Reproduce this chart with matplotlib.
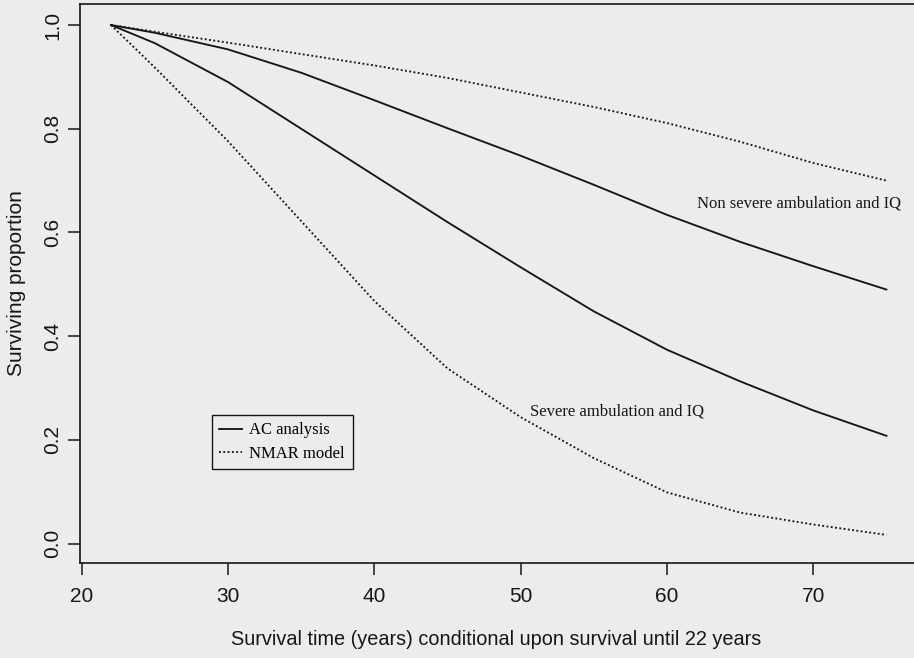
import matplotlib
matplotlib.use("Agg")
import matplotlib.pyplot as plt
from matplotlib.font_manager import FontProperties

# survival curves
age = [22, 25, 30, 35, 40, 45, 50, 55, 60, 65, 70, 75]
ac_nonsevere = [1.0, 0.985, 0.953, 0.908, 0.855, 0.801, 0.748, 0.692, 0.634, 0.582, 0.535, 0.490]
nmar_nonsevere = [1.0, 0.987, 0.966, 0.944, 0.922, 0.898, 0.870, 0.842, 0.811, 0.775, 0.734, 0.700]
ac_severe = [1.0, 0.965, 0.890, 0.800, 0.710, 0.620, 0.533, 0.448, 0.374, 0.313, 0.257, 0.208]
nmar_severe = [1.0, 0.918, 0.776, 0.622, 0.468, 0.338, 0.244, 0.165, 0.099, 0.060, 0.037, 0.017]

xticks = [20, 30, 40, 50, 60, 70]
yticks = [0.0, 0.2, 0.4, 0.6, 0.8, 1.0]

BG = '#ececec'
INK = '#161616'
SANS = ['Liberation Sans', 'DejaVu Sans']
SERIF = ['Liberation Serif', 'DejaVu Serif']

fig = plt.figure(figsize=(9.14, 6.58), dpi=100)
fig.patch.set_facecolor(BG)

# plot box runs slightly past the right edge, as in the cropped scan
ax = fig.add_axes([80 / 914, 1 - 563 / 658, 837 / 914, 559 / 658])
ax.patch.set_alpha(0)

dot = (0, (1, 1.3))
ax.plot(age, ac_nonsevere, c=INK, lw=1.35, label='AC analysis')
ax.plot(age, nmar_nonsevere, c=INK, lw=1.35, ls=dot, label='NMAR model')
ax.plot(age, ac_severe, c=INK, lw=1.35, label='_nolegend_')
ax.plot(age, nmar_severe, c=INK, lw=1.35, ls=dot, label='_nolegend_')

ax.text(69.0, 0.655, 'Non severe ambulation and IQ', family=SERIF, size=12,
        ha='center', va='center', color=INK)
ax.text(56.6, 0.254, 'Severe ambulation and IQ', family=SERIF, size=12,
        ha='center', va='center', color=INK)

ax.set_xlim(19.884, 77.09)
ax.set_ylim(-0.0372, 1.0405)
ax.set_xticks(xticks)
ax.set_yticks(yticks)
ax.set_xticklabels([str(t) for t in xticks], family=SANS, size=15, color=INK)
ax.set_yticklabels([f'{t:.1f}' for t in yticks], family=SANS, size=15,
                   rotation=90, va='center', color=INK)
ax.tick_params(axis='both', length=8.6, width=1.1, color=INK, direction='out')
ax.tick_params(axis='x', pad=9)
ax.tick_params(axis='y', pad=4)
for sp in ax.spines.values():
    sp.set_linewidth(1.2)
    sp.set_color(INK)

ax.set_xlabel('Survival time (years) conditional upon survival until 22 years',
              family=SANS, size=14.3, va='center', color=INK)
ax.xaxis.set_label_coords(0.497, -0.1377)
ax.set_ylabel('Surviving proportion', family=SANS, size=15, va='center', color=INK)
ax.yaxis.set_label_coords(-0.0753, 0.5)

leg = ax.legend(loc='upper left', bbox_to_anchor=(0.1577, 0.2648),
                prop=FontProperties(family=SERIF, size=12),
                fancybox=False, edgecolor=INK, facecolor=BG, framealpha=1,
                borderaxespad=0, borderpad=0.45, handlelength=1.35,
                handletextpad=0.45, labelspacing=0.45)
leg.get_frame().set_linewidth(1.0)

fig.savefig('out.png', dpi=100, facecolor=BG)
